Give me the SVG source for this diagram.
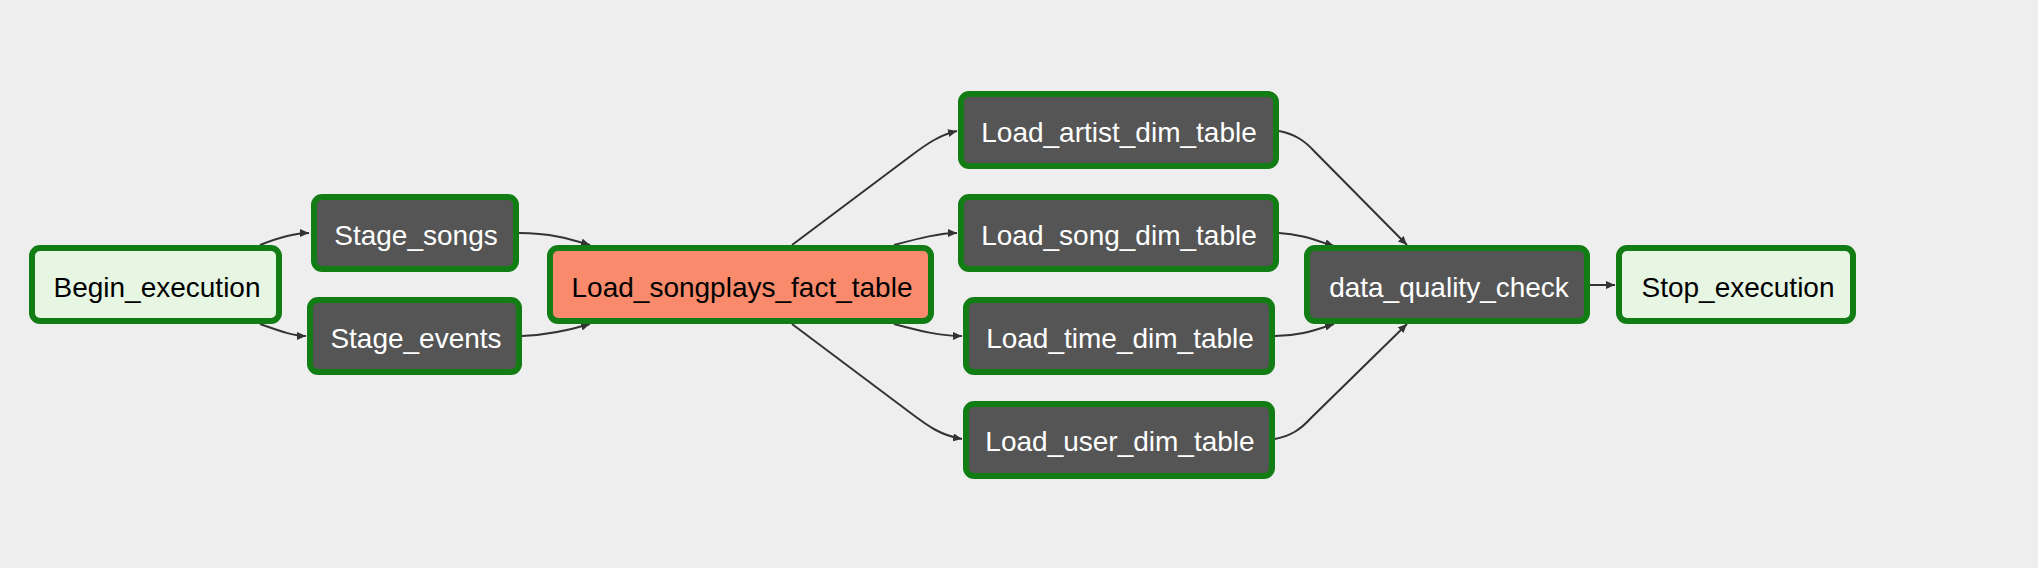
<svg xmlns="http://www.w3.org/2000/svg" width="2038" height="568" viewBox="0 0 2038 568">
<style>
  .bg { fill: #eeeeee; }
  .node rect { stroke: #127d14; stroke-width: 6; }
  .dark rect { fill: #555555; }
  .dummy rect { fill: #e7f6e3; }
  .fact rect { fill: #f98a6b; }
  .node text { font-family: "Liberation Sans", Arial, Helvetica, sans-serif; font-size: 28px; text-anchor: middle; }
  .dark text { fill: #ffffff; }
  .dummy text, .fact text { fill: #000000; }
  .edges path { fill: none; stroke: #333333; stroke-width: 2; }
</style>
<defs>
  <marker id="arrow" markerUnits="userSpaceOnUse" markerWidth="10" markerHeight="8" refX="9" refY="4" orient="auto">
    <path d="M0,0 L9,4 L0,8 z" fill="#333333"/>
  </marker>
</defs>
<rect class="bg" x="0" y="0" width="2038" height="568"/>

<g id="connectors" class="edges">
  <path d="M260,245 C280,237 295,233 309,233" marker-end="url(#arrow)"/>
  <path d="M260,324 C280,331 293,336 306,336" marker-end="url(#arrow)"/>
  <path d="M519,233 C550,233 570,239 590,245" marker-end="url(#arrow)"/>
  <path d="M522,336 C550,335 570,330 590,324" marker-end="url(#arrow)"/>
  <path d="M792,245 L912,155 C928,143 940,135 957,131" marker-end="url(#arrow)"/>
  <path d="M894,245 C920,238 940,233 957,233" marker-end="url(#arrow)"/>
  <path d="M894,324 C920,331 940,336 962,336" marker-end="url(#arrow)"/>
  <path d="M792,324 L912,414 C928,426 940,435 962,439" marker-end="url(#arrow)"/>
  <path d="M1279,131 C1295,134 1305,141 1315,152 L1407,245" marker-end="url(#arrow)"/>
  <path d="M1279,233 C1300,234 1315,240 1334,246" marker-end="url(#arrow)"/>
  <path d="M1275,336 C1300,336 1315,330 1334,324" marker-end="url(#arrow)"/>
  <path d="M1275,439 C1291,436 1301,429 1311,418 L1407,324" marker-end="url(#arrow)"/>
  <path d="M1590,285 L1615,285" marker-end="url(#arrow)"/>
</g>

<g id="Begin_execution" class="node dummy">
  <rect x="32" y="248" width="247" height="73" rx="8"/>
  <text x="157" y="297">Begin_execution</text>
</g>
<g id="Stage_songs" class="node dark">
  <rect x="314" y="197" width="202" height="72" rx="8"/>
  <text x="416" y="245">Stage_songs</text>
</g>
<g id="Stage_events" class="node dark">
  <rect x="310" y="300" width="209" height="72" rx="8"/>
  <text x="416" y="348">Stage_events</text>
</g>
<g id="Load_songplays_fact_table" class="node fact">
  <rect x="550" y="248" width="381" height="73" rx="8"/>
  <text x="742" y="297">Load_songplays_fact_table</text>
</g>
<g id="Load_artist_dim_table" class="node dark">
  <rect x="961" y="94" width="315" height="72" rx="8"/>
  <text x="1119" y="142">Load_artist_dim_table</text>
</g>
<g id="Load_song_dim_table" class="node dark">
  <rect x="961" y="197" width="315" height="72" rx="8"/>
  <text x="1119" y="245">Load_song_dim_table</text>
</g>
<g id="Load_time_dim_table" class="node dark">
  <rect x="966" y="300" width="306" height="72" rx="8"/>
  <text x="1120" y="348">Load_time_dim_table</text>
</g>
<g id="Load_user_dim_table" class="node dark">
  <rect x="966" y="404" width="306" height="72" rx="8"/>
  <text x="1120" y="451">Load_user_dim_table</text>
</g>
<g id="data_quality_check" class="node dark">
  <rect x="1307" y="248" width="280" height="73" rx="8"/>
  <text x="1449" y="297">data_quality_check</text>
</g>
<g id="Stop_execution" class="node dummy">
  <rect x="1619" y="248" width="234" height="73" rx="8"/>
  <text x="1738" y="297">Stop_execution</text>
</g>
</svg>
